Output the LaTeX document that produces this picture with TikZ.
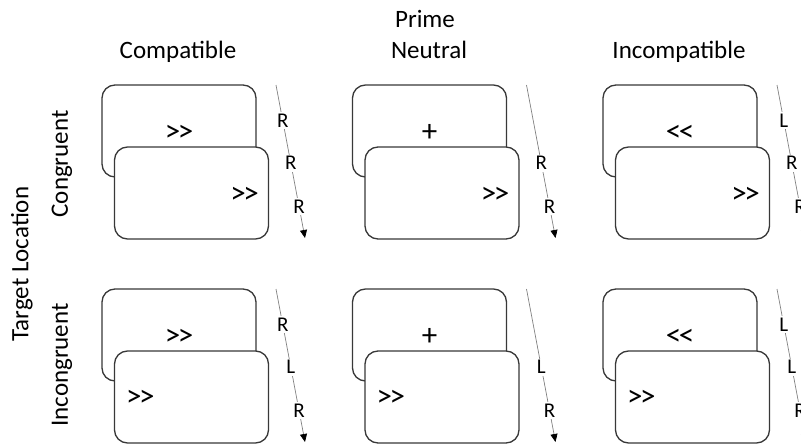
\documentclass[tikz,border=0pt]{standalone}
\usepackage{fontspec}
\setmainfont{Carlito}
\usetikzlibrary{arrows.meta}
\newcommand{\rgt}{>\kern-2.5pt>}
\newcommand{\lft}{<\kern-2.5pt<}
\begin{document}
\begin{tikzpicture}[x=1pt,y=-1pt,
  card/.style={draw=black!78, line width=1.3pt, rounded corners=13pt, fill=white,
    minimum width=154pt, minimum height=92pt, inner sep=0pt},
  sym/.style={font=\fontsize{31}{31}\selectfont, inner sep=0pt},
  head/.style={font=\fontsize{25}{30}\selectfont, inner sep=0pt},
  seqline/.style={draw=black!50, line width=0.7pt, -{Triangle[length=8pt,width=7pt,color=black]}},
  resp/.style={fill=white, inner sep=2pt, font=\fontsize{21}{21}\selectfont, text height=13pt, text depth=0pt}
]
\useasboundingbox (0,0) rectangle (801,444);
\clip (0,0) rectangle (801,444);
% headings
\node[head, anchor=base] (prime) at (425,28) {Prime};
\node[head, anchor=base] (hcomp) at (178,59) {Compatible};
\node[head, anchor=base] (hneut) at (429,59) {Neutral};
\node[head, anchor=base] (hinc) at (679,59) {Incompatible};
\node[head, rotate=90] (tl) at (22,264) {Target Location};
\node[head, rotate=90] (cong) at (62,164) {Congruent};
\node[head, rotate=90] (incong) at (62,365) {Incongruent};
% cards
\foreach \r in {0,1}{
  \foreach \c/\bt in {0/{\rgt},1/{+},2/{\lft}}{
    \pgfmathsetmacro\dx{250.5*\c}
    \pgfmathsetmacro\dy{204*\r}
    \begin{scope}[shift={(\dx,\dy)}]
      \node[card] (back\c\r) at (179,131) {};
      \node[sym, anchor=base] (btxt\c\r) at (179,141) {\bt};
      \node[card] (front\c\r) at (191.5,193) {};
      \ifnum\r=0
        \node[sym, anchor=base east] (ftxt\c\r) at (259,203) {\rgt};
      \else
        \node[sym, anchor=base west] (ftxt\c\r) at (126,202) {\rgt};
      \fi
    \end{scope}
  }
}
% response sequences, congruent row
\coordinate (s00) at (276,85);  \coordinate (e00) at (305,238);
\draw[seqline] (s00) -- node[resp,pos=.235]{R} node[resp,pos=.51]{R} node[resp,pos=.797]{R} (e00);
\coordinate (s10) at (526.5,85);  \coordinate (e10) at (555.5,238);
\draw[seqline] (s10) -- node[resp,pos=.51]{R} node[resp,pos=.797]{R} (e10);
\coordinate (s20) at (777,85);  \coordinate (e20) at (806,238);
\draw[seqline] (s20) -- node[resp,pos=.235]{L} node[resp,pos=.51]{R} node[resp,pos=.797]{R} (e20);
% incongruent row
\coordinate (s01) at (276,289);  \coordinate (e01) at (305,442);
\draw[seqline] (s01) -- node[resp,pos=.235]{R} node[resp,pos=.51]{L} node[resp,pos=.797]{R} (e01);
\coordinate (s11) at (526.5,289);  \coordinate (e11) at (555.5,442);
\draw[seqline] (s11) -- node[resp,pos=.51]{L} node[resp,pos=.797]{R} (e11);
\coordinate (s21) at (777,289);  \coordinate (e21) at (806,442);
\draw[seqline] (s21) -- node[resp,pos=.235]{L} node[resp,pos=.51]{L} node[resp,pos=.797]{R} (e21);
\end{tikzpicture}
\end{document}
